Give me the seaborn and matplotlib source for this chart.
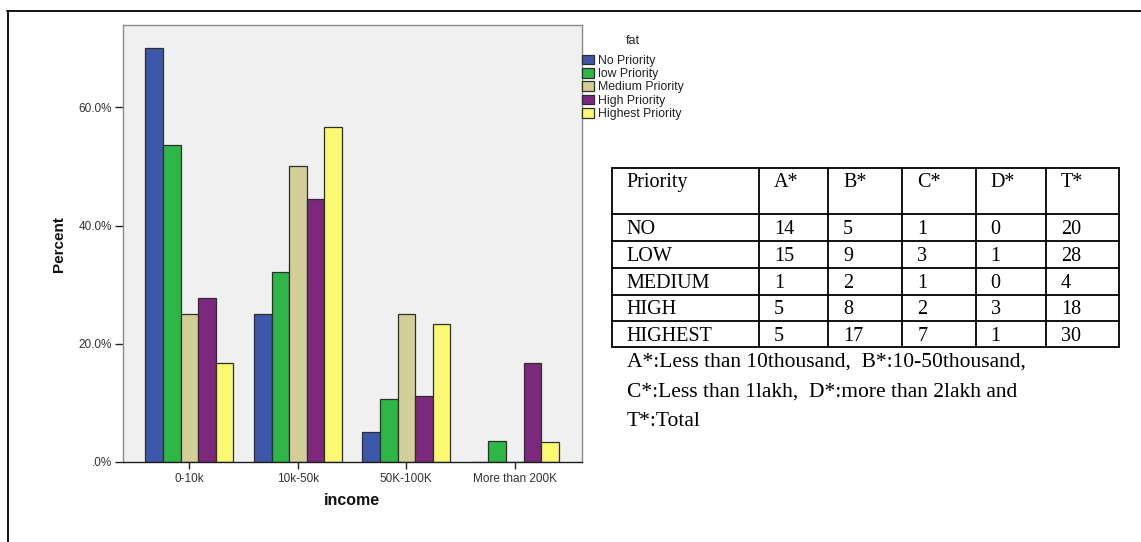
import numpy as np
import pandas as pd
import seaborn as sns
import matplotlib
matplotlib.use("Agg")
import matplotlib.pyplot as plt
from matplotlib.lines import Line2D
from matplotlib.ticker import FuncFormatter, FixedLocator

# ---- data -------------------------------------------------------------
income_labels = ["0-10k", "10k-50k", "50K-100K", "More than 200K"]
priority_labels = ["No Priority", "low Priority", "Medium Priority",
                   "High Priority", "Highest Priority"]
table_rows = ["NO", "LOW", "MEDIUM", "HIGH", "HIGHEST"]
table_cols = ["Priority", "A*", "B*", "C*", "D*", "T*"]

# respondent counts per priority level, one list per income band
count_a = [14, 15, 1, 5, 5]
count_b = [5, 9, 2, 8, 17]
count_c = [1, 3, 1, 2, 7]
count_d = [0, 1, 0, 3, 1]

footnote_lines = [
    "A*:Less than 10thousand,  B*:10-50thousand,",
    "C*:Less than 1lakh,  D*:more than 2lakh and",
    "T*:Total",
]

palette = ["#3D57AB", "#2EB647", "#D4CF98", "#7C287C", "#FBF872"]

# ---- derived table -------------------------------------------------------
counts = np.array([count_a, count_b, count_c, count_d])  # income x priority
totals = counts.sum(axis=0)
percent = counts / totals * 100.0

rows = []
for i, inc in enumerate(income_labels):
    for j, pr in enumerate(priority_labels):
        rows.append({"income": inc, "fat": pr, "Percent": percent[i, j]})
df = pd.DataFrame(rows)

# ---- figure -------------------------------------------------------------
W, H = 1141, 542
sns.set_theme(style="white")
plt.rcParams["font.family"] = ["Liberation Sans", "DejaVu Sans"]

fig = plt.figure(figsize=(W / 100, H / 100), dpi=100)
fig.patch.set_facecolor("white")


def fx(x):
    return x / W


def fy(y):
    return 1 - y / H


ax_l, ax_r, ax_t, ax_b = 122.5, 581.7, 25.2, 462.0
ax = fig.add_axes([fx(ax_l), fy(ax_b), (ax_r - ax_l) / W, (ax_b - ax_t) / H])
ax.set_facecolor("#F0F0F0")

sns.barplot(data=df, x="income", y="Percent", hue="fat",
            order=income_labels, hue_order=priority_labels,
            palette=palette, width=0.81, edgecolor="#2E2E2E",
            linewidth=0.9, saturation=1, errorbar=None, ax=ax)

ax.set_xlim(-0.617, 3.617)
ax.set_ylim(0, 73.9)
ax.yaxis.set_major_locator(FixedLocator([0, 20, 40, 60]))


def pct_fmt(v, _):
    s = f"{v:.1f}%"
    return s[1:] if s.startswith("0") else s


ax.yaxis.set_major_formatter(FuncFormatter(pct_fmt))

for side in ("top", "right", "left"):
    ax.spines[side].set_color("#8A8A8A")
    ax.spines[side].set_linewidth(1.0)
ax.spines["bottom"].set_color("#1E1E1E")
ax.spines["bottom"].set_linewidth(1.0)

ax.tick_params(axis="both", which="major", direction="out", length=6,
               width=1.0, color="#222222", labelsize=8.5,
               labelcolor="#333333", pad=1.5, left=True, bottom=True)
ax.tick_params(axis="x", length=5, pad=3)

ax.set_ylabel("Percent", fontsize=11, fontweight="bold", color="#111111")
ax.set_xlabel("income", fontsize=11.5, fontweight="bold", color="#111111")
ax.yaxis.set_label_coords((66 - ax_l) / (ax_r - ax_l), 0.5)
ax.xaxis.set_label_coords(0.5, -(493 - ax_b) / (ax_b - ax_t))
ax.xaxis.label.set_va("top")

handles, labels = ax.get_legend_handles_labels()
for hnd in handles:
    hnd.set_edgecolor("#2E2E2E")
    hnd.set_linewidth(0.9)
leg = ax.legend(handles, labels, title="fat", loc="upper left",
                bbox_to_anchor=(fx(582), fy(35)),
                bbox_transform=fig.transFigure, frameon=False,
                fontsize=8.8, title_fontsize=9, handlelength=0.95,
                handleheight=0.85, handletextpad=0.35, labelspacing=0.1,
                borderpad=0, borderaxespad=0)
leg._legend_box.sep = 5.5
leg.get_title().set_color("#222222")
for t in leg.get_texts():
    t.set_color("#222222")

# ---- outer frame ---------------------------------------------------------
fig.add_artist(Line2D([fx(7), fx(W)], [fy(11), fy(11)], color="black",
                      lw=1.3, transform=fig.transFigure))
fig.add_artist(Line2D([fx(7.5), fx(7.5)], [fy(11), fy(H)], color="black",
                      lw=1.3, transform=fig.transFigure))

# ---- count table ---------------------------------------------------------
col_x = [611.8, 758.8, 828.0, 902.4, 975.7, 1046.0, 1119.0]
row_y = [168.4, 213.5, 241.0, 268.0, 294.5, 321.0, 346.8]
for y in row_y:
    fig.add_artist(Line2D([fx(col_x[0]), fx(col_x[-1])], [fy(y), fy(y)],
                          color="black", lw=1.3, transform=fig.transFigure))
for x in col_x:
    fig.add_artist(Line2D([fx(x), fx(x)], [fy(row_y[0]), fy(row_y[-1])],
                          color="black", lw=1.3, transform=fig.transFigure))

serif = dict(family=["Liberation Serif", "DejaVu Serif"], fontsize=14.5,
             color="black", va="baseline", ha="left")
for c, name in enumerate(table_cols):
    fig.text(fx(col_x[c] + 15), fy(row_y[0] + 19), name, **serif)

table_values = np.vstack([counts, totals[None, :]])  # A, B, C, D, T
for r, name in enumerate(table_rows):
    base = fy(row_y[r + 1] + 20)
    fig.text(fx(col_x[0] + 15), base, name, **serif)
    for c in range(table_values.shape[0]):
        fig.text(fx(col_x[c + 1] + 15), base, str(table_values[c, r]), **serif)

note = dict(serif, fontsize=15.5)
for k, line in enumerate(footnote_lines):
    fig.text(fx(627), fy([367, 397, 426][k]), line, **note)

fig.savefig("out.png", dpi=100)
